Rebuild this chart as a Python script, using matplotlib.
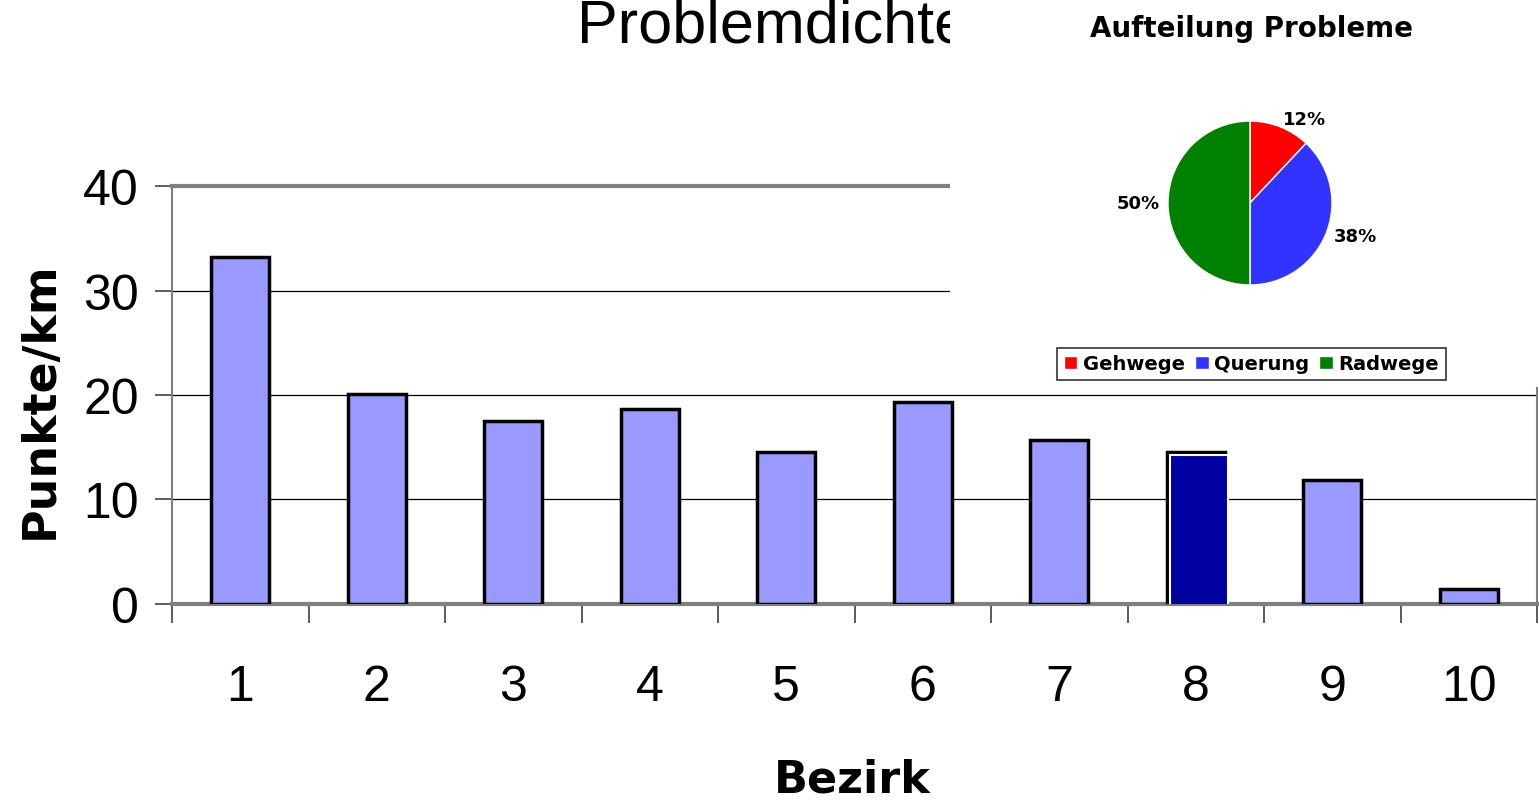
import matplotlib
matplotlib.use("Agg")
import matplotlib.pyplot as plt
from matplotlib.transforms import offset_copy

# bar chart data
bezirke = ["1", "2", "3", "4", "5", "6", "7", "8", "9", "10"]
punkte_km = [33.2, 20.1, 17.5, 18.7, 14.5, 19.3, 15.7, 14.5, 11.9, 1.4]
highlight = "8"

# pie data
pie_labels = ["Gehwege", "Querung", "Radwege"]
pie_values = [12, 38, 50]
pie_colors = ["#ff0000", "#3333ff", "#008000"]

fig = plt.figure(figsize=(15.39, 8.03), dpi=100)

# main bar chart
ax = fig.add_axes([0.1118, 0.2466, 0.8869, 0.5205])
x = list(range(len(bezirke)))
colors = ["#0000a0" if b == highlight else "#9999ff" for b in bezirke]
bars = ax.bar(x, punkte_km, width=0.425, color=colors, edgecolor="black",
              linewidth=2.5, zorder=3)
# highlighted bar: fill shifted a bit, black outline stays behind
hi = bezirke.index(highlight)
shift = offset_copy(ax.transData, fig=fig, x=3, y=-3, units="dots")
ax.bar([hi], [punkte_km[hi]], width=0.425, color="#0000a0",
       edgecolor="white", linewidth=1.5, zorder=4, transform=shift)

ax.set_xlim(-0.5, len(bezirke) - 0.5)
ax.set_ylim(0, 40)
ax.set_yticks([0, 10, 20, 30, 40])
ax.set_xticks([i - 0.5 for i in range(len(bezirke) + 1)], minor=False)
ax.set_xticklabels([])
ax.set_xticks(x, minor=True)
ax.set_xticklabels(bezirke, minor=True)
ax.tick_params(axis="x", which="major", length=14, width=1.2, color="#404040",
               direction="out")
ax.tick_params(axis="x", which="minor", length=0, pad=43, labelsize=36)
ax.tick_params(axis="y", length=12, width=1.2, color="#404040", labelsize=36,
               pad=12)
for lbl in ax.get_xticklabels(minor=True) + ax.get_yticklabels():
    lbl.set_fontfamily("Liberation Sans")

ax.grid(axis="y", color="black", linewidth=0.9, zorder=0)
for side in ["top", "bottom"]:
    ax.spines[side].set_color("#808080")
    ax.spines[side].set_linewidth(3)
for side in ["left", "right"]:
    ax.spines[side].set_color("#808080")
    ax.spines[side].set_linewidth(1.5)

fig.text(0.026, 0.502, "Punkte/km", rotation=90, ha="center", va="center",
         fontsize=33, fontweight="bold", family="DejaVu Sans")
fig.text(0.554, 0.029, "Bezirk", ha="center", va="center",
         fontsize=32, fontweight="bold", family="DejaVu Sans")
fig.text(0.375, 1.002, "Problemdichte", ha="left", va="top",
         fontsize=44, family="Liberation Sans")

# white inset with the pie chart
box = fig.add_axes([0.6173, 0.5168, 0.3827, 0.4832])
box.set_facecolor("white")
box.set_xticks([])
box.set_yticks([])
for s in box.spines.values():
    s.set_visible(False)
box.set_zorder(5)

pax = fig.add_axes([0.7456, 0.6183, 0.1332, 0.2553])
pax.set_zorder(6)
wedges, texts = pax.pie(pie_values, colors=pie_colors, startangle=90,
                        counterclock=False,
                        wedgeprops=dict(edgecolor="white", linewidth=1),
                        labels=[f"{v}%" for v in pie_values], labeldistance=1.1,
                        textprops=dict(fontsize=13, fontweight="bold",
                                       family="DejaVu Sans"))
pax.set_xlim(-1.25, 1.25)
pax.set_ylim(-1.25, 1.25)
pax.set_aspect("equal")

fig.text(0.8135, 0.964, "Aufteilung Probleme", ha="center", va="center",
         fontsize=20, fontweight="bold", family="DejaVu Sans", zorder=10)

leg = fig.legend(wedges, pie_labels, loc="center", bbox_to_anchor=(0.8132, 0.5455),
                 ncol=3, frameon=True, fancybox=False, edgecolor="black",
                 handlelength=0.7, handleheight=0.7,
                 handletextpad=0.3, columnspacing=0.5, borderpad=0.35,
                 borderaxespad=0, prop=dict(weight="bold", size=14, family="DejaVu Sans"))
leg.get_frame().set_linewidth(1.2)
leg.set_zorder(10)

fig.savefig("out.png", dpi=100)
